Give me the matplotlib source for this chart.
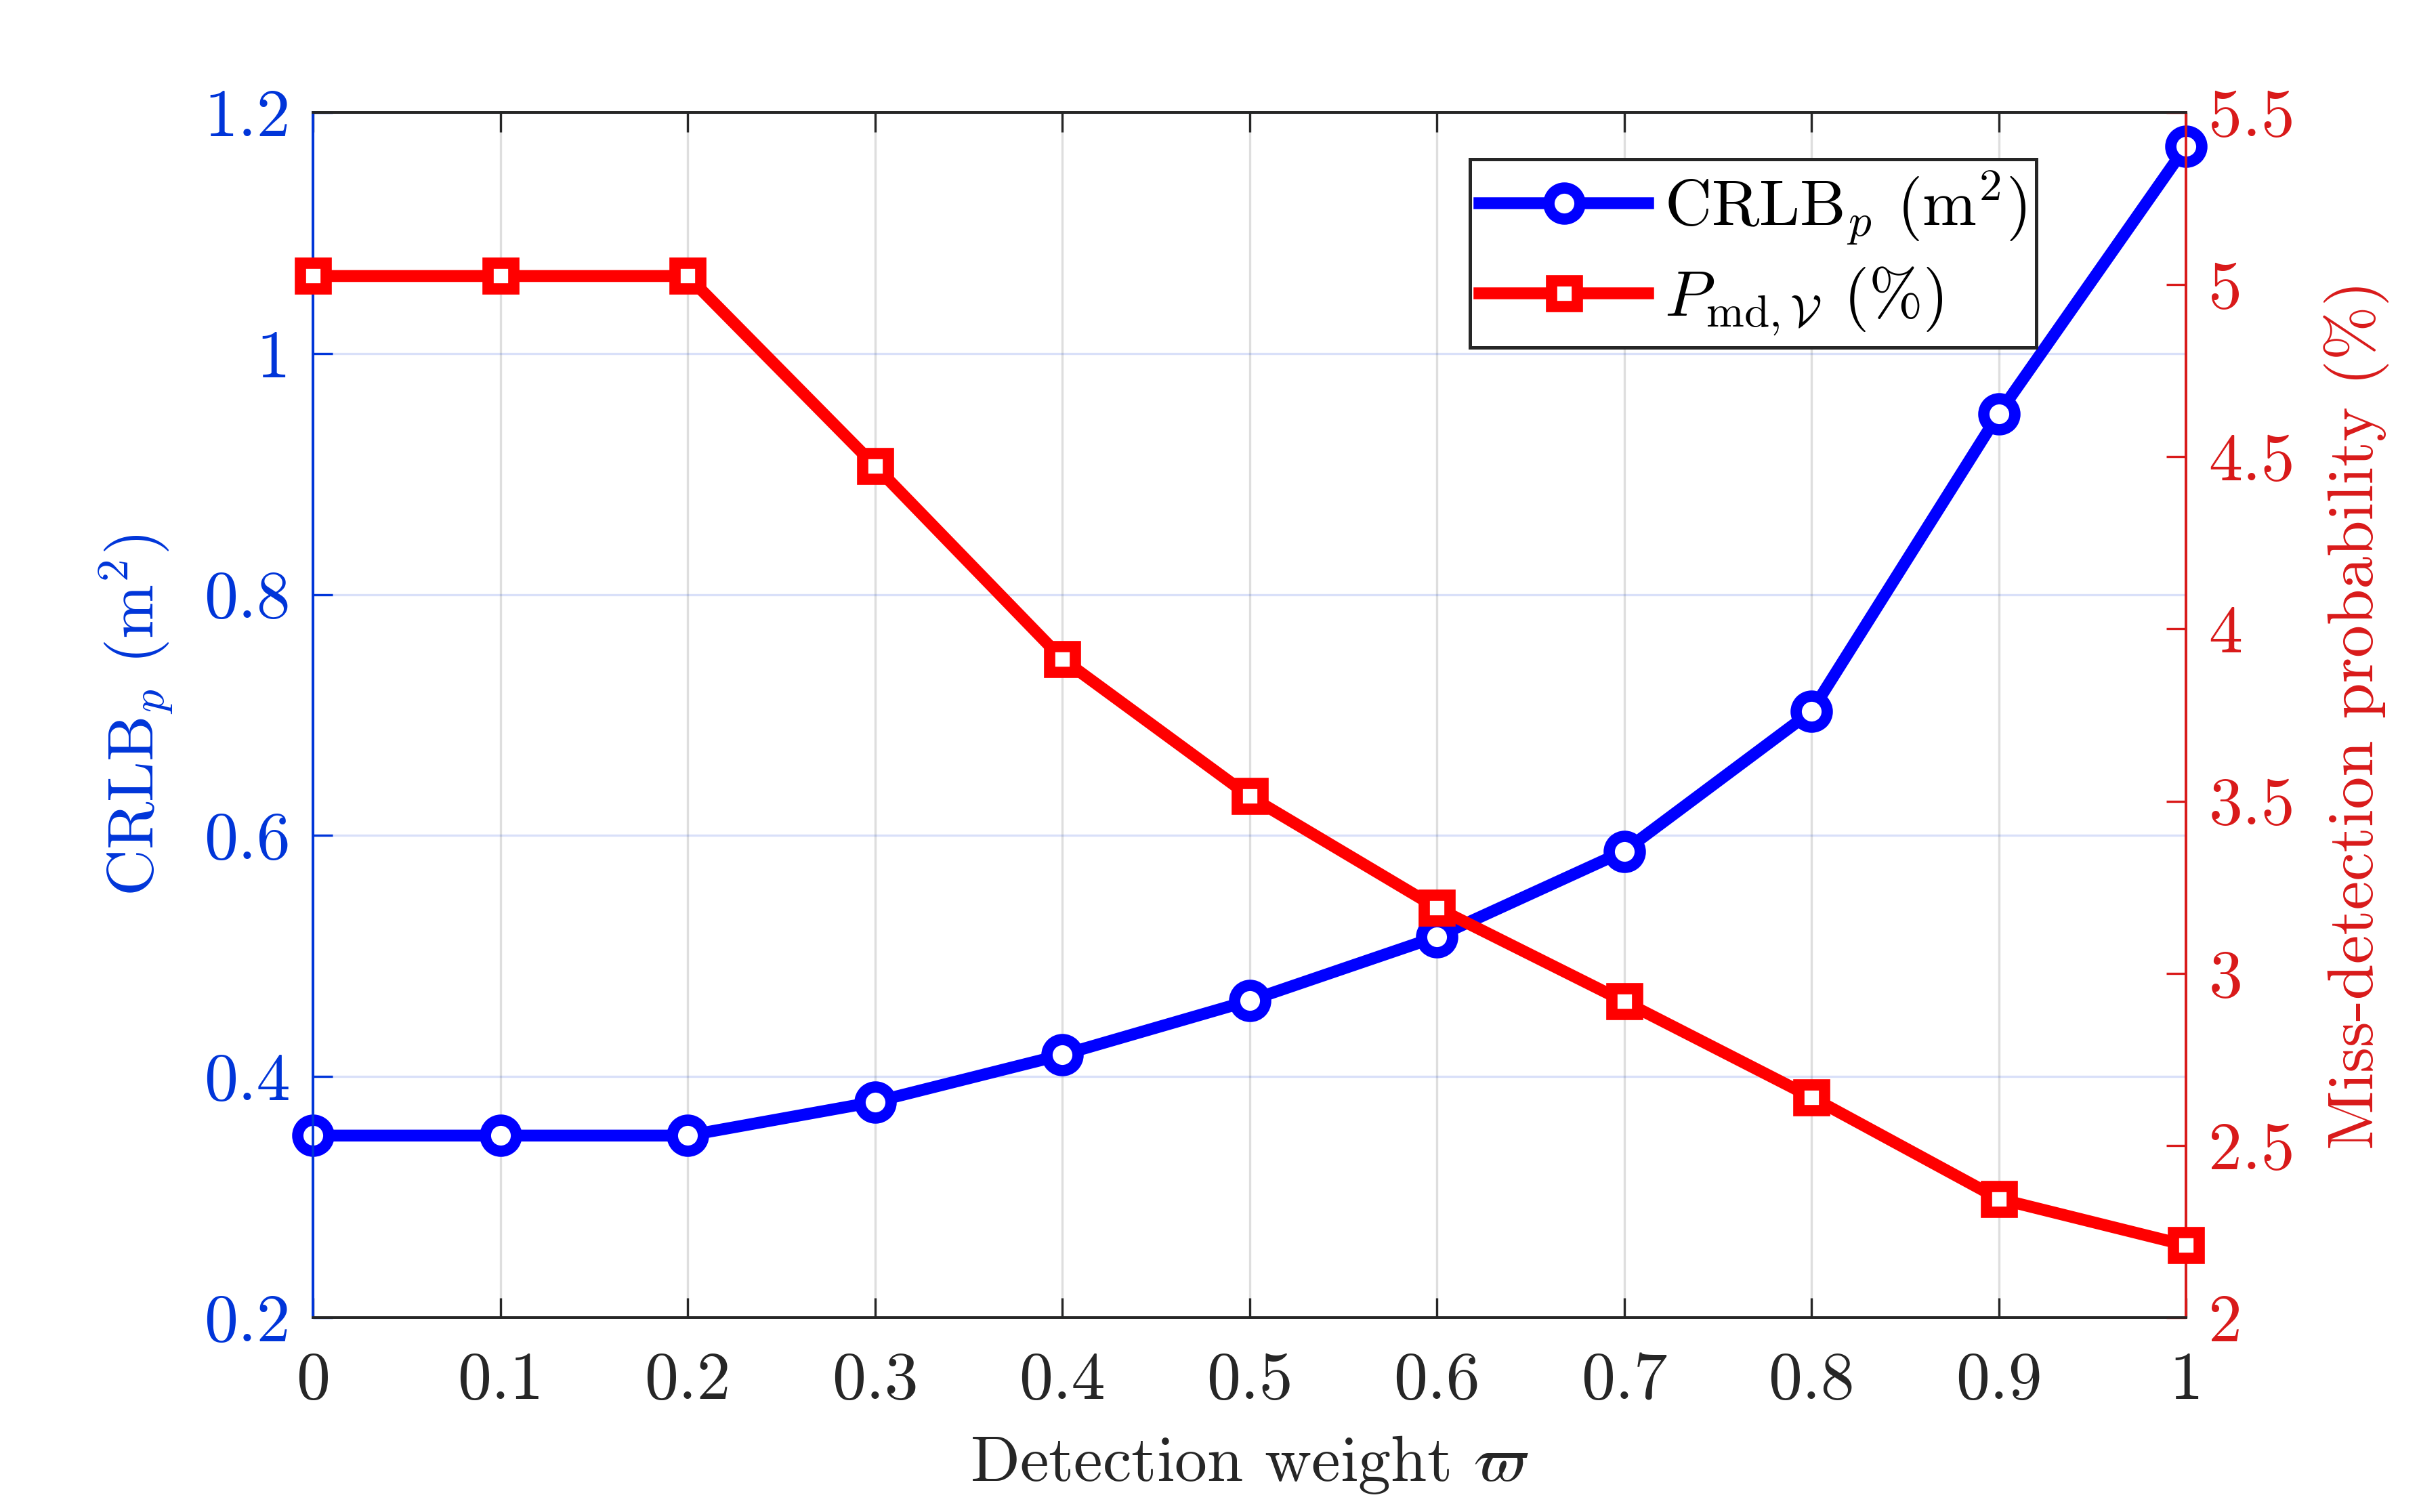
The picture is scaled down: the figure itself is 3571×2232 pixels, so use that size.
import numpy as np
import matplotlib
matplotlib.use('Agg')
import matplotlib.pyplot as plt

plt.rcParams['font.family'] = 'serif'
plt.rcParams['font.serif'] = ['cmr10']
plt.rcParams['mathtext.fontset'] = 'cm'
plt.rcParams['axes.formatter.use_mathtext'] = True
plt.rcParams['axes.unicode_minus'] = False

# data
weight = [0, 0.1, 0.2, 0.3, 0.4, 0.5, 0.6, 0.7, 0.8, 0.9, 1.0]
crlb = [0.351, 0.351, 0.351, 0.379, 0.418, 0.463, 0.516, 0.587, 0.703, 0.950, 1.172]
p_md = [5.025, 5.025, 5.025, 4.474, 3.913, 3.514, 3.19, 2.918, 2.64, 2.345, 2.21]

x_ticks = [0, 0.1, 0.2, 0.3, 0.4, 0.5, 0.6, 0.7, 0.8, 0.9, 1]
x_ticklabels = ['0', '0.1', '0.2', '0.3', '0.4', '0.5', '0.6', '0.7', '0.8', '0.9', '1']
left_ticks = [0.2, 0.4, 0.6, 0.8, 1.0, 1.2]
left_ticklabels = ['0.2', '0.4', '0.6', '0.8', '1', '1.2']
right_ticks = [2, 2.5, 3, 3.5, 4, 4.5, 5, 5.5]
right_ticklabels = ['2', '2.5', '3', '3.5', '4', '4.5', '5', '5.5']

blue_axis = '#0035d9'
red_axis = '#d91a1a'
dark = '#262626'
fs = 24      # tick labels
lfs = 23     # axis labels / legend

fig = plt.figure(figsize=(3571 / 300, 2232 / 300), dpi=300)
ax = fig.add_axes([0.1294, 0.1286, 0.9037 - 0.1294, 0.9256 - 0.1286])
ax2 = ax.twinx()

l1, = ax.plot(weight, crlb, color='#0000ff', lw=4.2, marker='o', ms=11,
              mew=4.0, mfc='white', mec='#0000ff', clip_on=False, zorder=3,
              label=r'CRLB$_p$ (m$^2$)')
l2, = ax2.plot(weight, p_md, color='#ff0000', lw=4.2, marker='s', ms=9,
               mew=4.0, mfc='white', mec='#ff0000', clip_on=False, zorder=3,
               label=r'$P_{\mathrm{md},\mathcal{V}}$ (%)')

ax.set_xlim(0, 1)
ax.set_ylim(0.2, 1.2)
ax2.set_ylim(2, 5.5)
ax.set_xticks(x_ticks)
ax.set_xticklabels(x_ticklabels)
ax.set_yticks(left_ticks)
ax.set_yticklabels(left_ticklabels)
ax2.set_yticks(right_ticks)
ax2.set_yticklabels(right_ticklabels)

# grid: vertical gray, horizontal tinted blue
ax.set_axisbelow(True)
ax.xaxis.grid(True, color='#262626', alpha=0.15, lw=0.8)
ax.yaxis.grid(True, color=blue_axis, alpha=0.15, lw=0.8)

ax.tick_params(axis='x', direction='in', length=7, width=0.8, colors=dark,
               labelsize=fs, pad=12, top=True)
ax.tick_params(axis='y', direction='in', length=7, width=0.8, colors=blue_axis,
               labelsize=fs, pad=8)
ax2.tick_params(axis='y', direction='in', length=7, width=0.8, colors=red_axis,
                labelsize=fs, pad=8)

for a in (ax, ax2):
    a.spines['top'].set_color(dark)
    a.spines['bottom'].set_color(dark)
    a.spines['left'].set_color(blue_axis)
    a.spines['right'].set_color(red_axis)
    for s in a.spines.values():
        s.set_linewidth(0.9)

ax.set_xlabel(r'Detection weight $\varpi$', fontsize=lfs, color=dark, labelpad=8)
ax.set_ylabel(r'CRLB$_p$ (m$^2$)', fontsize=lfs, color=blue_axis, labelpad=10)
ax2.set_ylabel('Miss-detection probability (%)', fontsize=lfs, color=red_axis, labelpad=10)

leg = ax2.legend([l1, l2], [l1.get_label(), l2.get_label()], loc='upper right',
                 bbox_to_anchor=(0.920, 0.961), fontsize=lfs, frameon=True,
                 fancybox=False, edgecolor='#262626', framealpha=1,
                 handlelength=2.6, borderpad=0.15, labelspacing=0.28,
                 handletextpad=0.25, borderaxespad=0)
leg.get_frame().set_linewidth(1.2)

fig.savefig('out.png', dpi=300)
